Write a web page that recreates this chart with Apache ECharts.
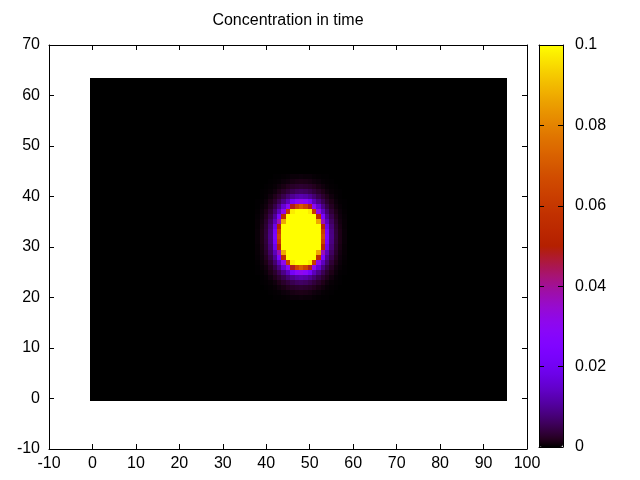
<!DOCTYPE html>
<html>
<head>
<meta charset="utf-8">
<script src="https://cdn.jsdelivr.net/npm/echarts@6/dist/echarts.min.js"></script>
<style>html,body{margin:0;padding:0;background:#fff}#c{width:640px;height:480px}</style>
</head>
<body>
<div id="c"></div>
<script>
// ---- data ----
const titleText = 'Concentration in time';
const gridCols = 96;          // x cells 0..95
const gridRows = 64;          // y cells 0..63
const backgroundValue = 0;    // uniform black field
const blobColStart = 38;      // first column of the non-zero patch
const blobRowStart = 20;      // first row of the non-zero patch
// rows from y=20 (bottom) to y=44 (top), columns x=38..58
const blobRows = [
  [0,0,0,0,0.0001,0.0001,0.0002,0.0003,0.0005,0.0005,0.0006,0.0005,0.0005,0.0003,0.0002,0.0001,0.0001,0,0,0,0],
  [0,0,0,0.0001,0.0002,0.0003,0.0006,0.0008,0.0011,0.0013,0.0014,0.0013,0.0011,0.0008,0.0006,0.0003,0.0002,0.0001,0,0,0],
  [0,0,0.0001,0.0002,0.0004,0.0008,0.0012,0.0019,0.0025,0.0029,0.0031,0.0029,0.0025,0.0019,0.0012,0.0008,0.0004,0.0002,0.0001,0,0],
  [0,0.0001,0.0002,0.0004,0.0008,0.0015,0.0026,0.0038,0.0051,0.0060,0.0064,0.0060,0.0051,0.0038,0.0026,0.0015,0.0008,0.0004,0.0002,0.0001,0],
  [0,0.0001,0.0003,0.0008,0.0016,0.0030,0.0049,0.0073,0.0097,0.0115,0.0122,0.0115,0.0097,0.0073,0.0049,0.0030,0.0016,0.0008,0.0003,0.0001,0],
  [0.0001,0.0002,0.0006,0.0014,0.0028,0.0053,0.0088,0.0131,0.0211,0.0280,0.0308,0.0280,0.0211,0.0131,0.0088,0.0053,0.0028,0.0014,0.0006,0.0002,0.0001],
  [0.0001,0.0004,0.0009,0.0022,0.0046,0.0086,0.0155,0.0301,0.0483,0.0641,0.0705,0.0641,0.0483,0.0301,0.0155,0.0086,0.0046,0.0022,0.0009,0.0004,0.0001],
  [0.0002,0.0006,0.0014,0.0034,0.0071,0.0134,0.0313,0.0607,0.0974,0.1293,0.1421,0.1293,0.0974,0.0607,0.0313,0.0134,0.0071,0.0034,0.0014,0.0006,0.0002],
  [0.0003,0.0008,0.0020,0.0048,0.0100,0.0237,0.0556,0.1078,0.1729,0.2295,0.2523,0.2295,0.1729,0.1078,0.0556,0.0237,0.0100,0.0048,0.0020,0.0008,0.0003],
  [0.0004,0.0010,0.0027,0.0062,0.0131,0.0371,0.0869,0.1684,0.2702,0.3587,0.3943,0.3587,0.2702,0.1684,0.0869,0.0371,0.0131,0.0062,0.0027,0.0010,0.0004],
  [0.0004,0.0012,0.0032,0.0075,0.0181,0.0510,0.1195,0.2317,0.3717,0.4935,0.5424,0.4935,0.3717,0.2317,0.1195,0.0510,0.0181,0.0075,0.0032,0.0012,0.0004],
  [0.0005,0.0014,0.0036,0.0085,0.0219,0.0618,0.1448,0.2805,0.4500,0.5976,0.6568,0.5976,0.4500,0.2805,0.1448,0.0618,0.0219,0.0085,0.0036,0.0014,0.0005],
  [0.0005,0.0014,0.0038,0.0088,0.0233,0.0659,0.1543,0.2990,0.4796,0.6369,0.7000,0.6369,0.4796,0.2990,0.1543,0.0659,0.0233,0.0088,0.0038,0.0014,0.0005],
  [0.0005,0.0014,0.0036,0.0085,0.0219,0.0618,0.1448,0.2805,0.4500,0.5976,0.6568,0.5976,0.4500,0.2805,0.1448,0.0618,0.0219,0.0085,0.0036,0.0014,0.0005],
  [0.0004,0.0012,0.0032,0.0075,0.0181,0.0510,0.1195,0.2317,0.3717,0.4935,0.5424,0.4935,0.3717,0.2317,0.1195,0.0510,0.0181,0.0075,0.0032,0.0012,0.0004],
  [0.0004,0.0010,0.0027,0.0062,0.0131,0.0371,0.0869,0.1684,0.2702,0.3587,0.3943,0.3587,0.2702,0.1684,0.0869,0.0371,0.0131,0.0062,0.0027,0.0010,0.0004],
  [0.0003,0.0008,0.0020,0.0048,0.0100,0.0237,0.0556,0.1078,0.1729,0.2295,0.2523,0.2295,0.1729,0.1078,0.0556,0.0237,0.0100,0.0048,0.0020,0.0008,0.0003],
  [0.0002,0.0006,0.0014,0.0034,0.0071,0.0134,0.0313,0.0607,0.0974,0.1293,0.1421,0.1293,0.0974,0.0607,0.0313,0.0134,0.0071,0.0034,0.0014,0.0006,0.0002],
  [0.0001,0.0004,0.0009,0.0022,0.0046,0.0086,0.0155,0.0301,0.0483,0.0641,0.0705,0.0641,0.0483,0.0301,0.0155,0.0086,0.0046,0.0022,0.0009,0.0004,0.0001],
  [0.0001,0.0002,0.0006,0.0014,0.0028,0.0053,0.0088,0.0131,0.0211,0.0280,0.0308,0.0280,0.0211,0.0131,0.0088,0.0053,0.0028,0.0014,0.0006,0.0002,0.0001],
  [0,0.0001,0.0003,0.0008,0.0016,0.0030,0.0049,0.0073,0.0097,0.0115,0.0122,0.0115,0.0097,0.0073,0.0049,0.0030,0.0016,0.0008,0.0003,0.0001,0],
  [0,0.0001,0.0002,0.0004,0.0008,0.0015,0.0026,0.0038,0.0051,0.0060,0.0064,0.0060,0.0051,0.0038,0.0026,0.0015,0.0008,0.0004,0.0002,0.0001,0],
  [0,0,0.0001,0.0002,0.0004,0.0008,0.0012,0.0019,0.0025,0.0029,0.0031,0.0029,0.0025,0.0019,0.0012,0.0008,0.0004,0.0002,0.0001,0,0],
  [0,0,0,0.0001,0.0002,0.0003,0.0006,0.0008,0.0011,0.0013,0.0014,0.0013,0.0011,0.0008,0.0006,0.0003,0.0002,0.0001,0,0,0],
  [0,0,0,0,0.0001,0.0001,0.0002,0.0003,0.0005,0.0005,0.0006,0.0005,0.0005,0.0003,0.0002,0.0001,0.0001,0,0,0,0]
];
const xTicks = [-10, 0, 10, 20, 30, 40, 50, 60, 70, 80, 90, 100];
const yTicks = [-10, 0, 10, 20, 30, 40, 50, 60, 70];
const cbTicks = [0, 0.02, 0.04, 0.06, 0.08, 0.1];

// ---- build cells ----
const cells = [];
for (let y = 0; y < gridRows; y++) {
  for (let x = 0; x < gridCols; x++) {
    let v = backgroundValue;
    const r = y - blobRowStart, c = x - blobColStart;
    if (r >= 0 && r < blobRows.length && c >= 0 && c < blobRows[r].length) v = blobRows[r][c];
    cells.push([x, y, v]);
  }
}

// gnuplot default palette rgbformulae 7,5,15
function gp(t) {
  const r = Math.sqrt(t), g = t * t * t, b = Math.max(0, Math.sin(2 * Math.PI * t));
  return 'rgb(' + Math.round(r * 255) + ',' + Math.round(g * 255) + ',' + Math.round(b * 255) + ')';
}
const palette = [];
for (let k = 0; k <= 64; k++) palette.push(gp(k / 64));

const FONT = 'Liberation Sans';
const axisLine = { show: true, onZero: false, lineStyle: { color: '#000', width: 1 } };
const tick = { show: true, inside: true, length: 5, lineStyle: { color: '#000' } };
const lbl = (m) => ({ show: true, color: '#000', fontSize: 16, fontFamily: FONT, margin: m });

const chart = echarts.init(document.getElementById('c'), null, { renderer: 'canvas' });
chart.setOption({
  animation: false,
  backgroundColor: '#fff',
  title: {
    text: titleText, left: 288, top: 13, textAlign: 'center', padding: 0,
    textStyle: { color: '#000', fontSize: 16, fontWeight: 'normal', fontFamily: FONT }
  },
  grid: [
    { left: 49, top: 45, width: 478, height: 404 },
    { left: 539, top: 45, width: 24, height: 402 }
  ],
  xAxis: [
    { type: 'value', gridIndex: 0, position: 'bottom', min: xTicks[0], max: xTicks[xTicks.length - 1], interval: xTicks[1] - xTicks[0],
      axisLine, axisTick: tick, axisLabel: lbl(7), splitLine: { show: false } },
    { type: 'value', gridIndex: 0, position: 'top', min: xTicks[0], max: xTicks[xTicks.length - 1], interval: xTicks[1] - xTicks[0],
      axisLine, axisTick: tick, axisLabel: { show: false }, splitLine: { show: false } },
    { type: 'value', gridIndex: 1, position: 'bottom', min: 0, max: 1, z: 10,
      axisLine, axisTick: { show: false }, axisLabel: { show: false }, splitLine: { show: false } },
    { type: 'value', gridIndex: 1, position: 'top', min: 0, max: 1, z: 10,
      axisLine, axisTick: { show: false }, axisLabel: { show: false }, splitLine: { show: false } }
  ],
  yAxis: [
    { type: 'value', gridIndex: 0, position: 'left', min: yTicks[0], max: yTicks[yTicks.length - 1], interval: yTicks[1] - yTicks[0],
      axisLine, axisTick: tick, axisLabel: lbl(9), splitLine: { show: false } },
    { type: 'value', gridIndex: 0, position: 'right', min: yTicks[0], max: yTicks[yTicks.length - 1], interval: yTicks[1] - yTicks[0],
      axisLine, axisTick: tick, axisLabel: { show: false }, splitLine: { show: false } },
    { type: 'value', gridIndex: 1, position: 'right', min: cbTicks[0], max: cbTicks[cbTicks.length - 1], interval: cbTicks[1] - cbTicks[0], z: 10,
      axisLine, axisTick: tick, axisLabel: lbl(12), splitLine: { show: false } },
    { type: 'value', gridIndex: 1, position: 'left', min: cbTicks[0], max: cbTicks[cbTicks.length - 1], interval: cbTicks[1] - cbTicks[0], z: 10,
      axisLine, axisTick: tick, axisLabel: { show: false }, splitLine: { show: false } }
  ],
  visualMap: {
    type: 'continuous', min: cbTicks[0], max: cbTicks[cbTicks.length - 1], dimension: 2, seriesIndex: 0,
    calculable: false, orient: 'vertical', left: 539, top: 45, itemWidth: 24, itemHeight: 402, padding: 0,
    text: null, inRange: { color: palette }, hoverLink: false
  },
  series: [{
    type: 'custom', xAxisIndex: 0, yAxisIndex: 0, data: cells, progressive: 0, silent: true,
    encode: { x: 0, y: 1 },
    renderItem: function (params, api) {
      const x = api.value(0), y = api.value(1);
      const p0 = api.coord([x - 0.5, y + 0.5]);
      const p1 = api.coord([x + 0.5, y - 0.5]);
      const x0 = Math.round(p0[0]), y0 = Math.round(p0[1]);
      const x1 = Math.round(p1[0]), y1 = Math.round(p1[1]);
      return { type: 'rect', shape: { x: x0, y: y0, width: x1 - x0, height: y1 - y0 }, style: { fill: api.visual('color') } };
    }
  }]
});
</script>
</body>
</html>
